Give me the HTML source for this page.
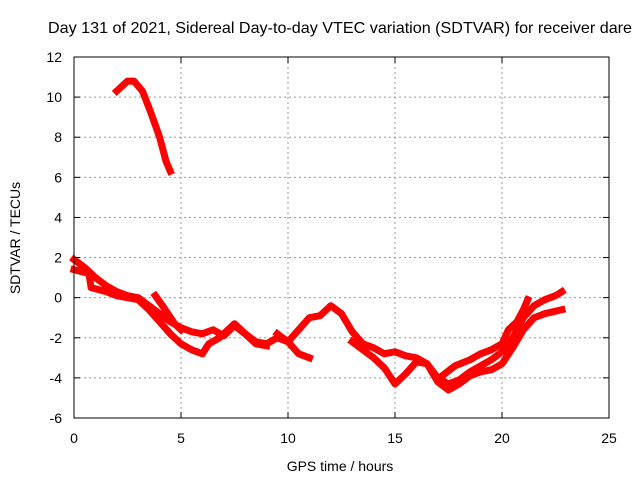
<!DOCTYPE html>
<html><head><meta charset="utf-8"><style>
body{margin:0;background:#fff}
svg{display:block;font-family:"Liberation Sans",sans-serif;font-size:14px}
</style></head><body>
<svg id="c" width="640" height="480">
<text x="340" y="33" text-anchor="middle" font-size="16" textLength="584" lengthAdjust="spacingAndGlyphs">Day 131 of 2021, Sidereal Day-to-day VTEC variation (SDTVAR) for receiver dare</text>
<text x="340" y="471" text-anchor="middle">GPS time / hours</text>
<text transform="translate(20,238) rotate(-90)" text-anchor="middle">SDTVAR / TECUs</text>
<g id="grid"></g>
<g id="series"></g>
<rect x="74" y="57" width="535" height="361" fill="none" stroke="#000"/>
<g id="ticks"></g>
</svg>
<script>
const xTicks=[0,5,10,15,20,25];
const yTicks=[-6,-4,-2,0,2,4,6,8,10,12];
const trackA=[[2.0,10.3],[2.5,10.8],[2.8,10.8],[3.2,10.3],[3.6,9.2],[4.0,8.0],[4.3,6.8],[4.5,6.3]];
const trackB=[[0,1.9],[0.5,1.5],[1,1.0],[1.5,0.6],[2,0.3],[2.5,0.1],[3,0],[3.5,-0.4],[4,-0.8],[4.5,-1.2],[5,-1.5],[5.5,-1.7],[6,-1.8],[6.5,-1.6],[7,-1.9],[7.5,-1.4],[8,-1.8],[8.5,-2.2],[9,-2.3],[9.5,-2.0],[10,-2.2],[10.5,-2.8],[11,-3.0]];
const trackC=[[0,1.4],[0.7,1.2],[0.8,0.5],[1.5,0.3],[2,0.1],[3,-0.1],[3.5,-0.6],[4,-1.2],[4.5,-1.8],[5,-2.3],[5.5,-2.6],[6,-2.8],[6.3,-2.3],[6.8,-2.0],[7.5,-1.3],[8,-1.8],[8.5,-2.3],[9,-2.4]];
const trackD=[[3.8,0.1],[4.2,-0.5],[4.7,-1.3],[5,-1.6]];
const trackE=[[9.5,-1.8],[10,-2.2],[10.5,-1.6],[11,-1.0],[11.5,-0.9],[12,-0.4],[12.5,-0.8],[13,-1.7],[13.5,-2.3],[14,-2.5],[14.5,-2.8],[15,-2.7],[15.5,-2.9],[16,-3.0],[16.5,-3.3],[17,-4.0],[17.5,-4.3],[18,-4.1],[18.5,-3.7],[19,-3.4],[19.5,-3.1],[20,-2.7],[20.5,-2.0],[21,-1.0],[21.5,-0.4],[22,-0.1],[22.5,0.1],[22.8,0.3]];
const trackF=[[13,-2.2],[13.5,-2.6],[14,-3.0],[14.5,-3.5],[15,-4.3],[15.5,-3.8],[16,-3.2],[16.5,-3.3],[17,-4.2],[17.5,-4.6],[18,-4.3],[18.5,-3.9],[19,-3.7],[19.5,-3.6],[20,-3.3],[20.5,-2.5],[21,-1.6],[21.5,-1.0],[22,-0.8],[22.8,-0.6]];
const trackG=[[17.2,-3.9],[17.8,-3.4],[18.5,-3.1],[19,-2.8],[19.5,-2.6],[20,-2.3],[20.3,-1.6],[20.7,-1.2],[21,-0.6],[21.2,-0.1]];
const tracks=[trackA,trackB,trackC,trackD,trackE,trackF,trackG];
const X0=74,X1=609,Y0=418,Y1=57;
const sx=v=>X0+(v-0)/(25-0)*(X1-X0);
const sy=v=>Y0-(v+6)/(12+6)*(Y0-Y1);
const NS="http://www.w3.org/2000/svg";
const grid=document.getElementById('grid'),ticks=document.getElementById('ticks'),ser=document.getElementById('series');
function mk(tag,attrs,parent){const e=document.createElementNS(NS,tag);for(const k in attrs)e.setAttribute(k,attrs[k]);parent.appendChild(e);return e;}
xTicks.forEach(t=>{const x=sx(t);
 if(t>0&&t<25){const g=mk('line',{x1:x,x2:x,y1:Y1,y2:Y0,stroke:'#999','stroke-dasharray':'2,3'},grid);}
 const a=mk('line',{x1:x,x2:x,y1:Y0,y2:Y0-6,stroke:'#000'},ticks);
 const b=mk('line',{x1:x,x2:x,y1:Y1,y2:Y1+6,stroke:'#000'},ticks);
 const l=mk('text',{x:x,y:Y0+25,'text-anchor':'middle'},ticks);l.textContent=t;});
yTicks.forEach(t=>{const y=sy(t);
 if(t>-6&&t<12){const g=mk('line',{x1:X0,x2:X1,y1:y,y2:y,stroke:'#999','stroke-dasharray':'2,3'},grid);}
 const a=mk('line',{x1:X0,x2:X0+6,y1:y,y2:y,stroke:'#000'},ticks);
 const b=mk('line',{x1:X1,x2:X1-6,y1:y,y2:y,stroke:'#000'},ticks);
 const l=mk('text',{x:X0-12,y:y+5,'text-anchor':'end'},ticks);l.textContent=t;});
tracks.forEach(tr=>{const p=mk('polyline',{points:tr.map(d=>sx(d[0])+','+sy(d[1])).join(' '),fill:'none',stroke:'#f00','stroke-width':7,'stroke-linejoin':'round','stroke-linecap':'square'},ser);
 
 });
</script>
</body></html>
